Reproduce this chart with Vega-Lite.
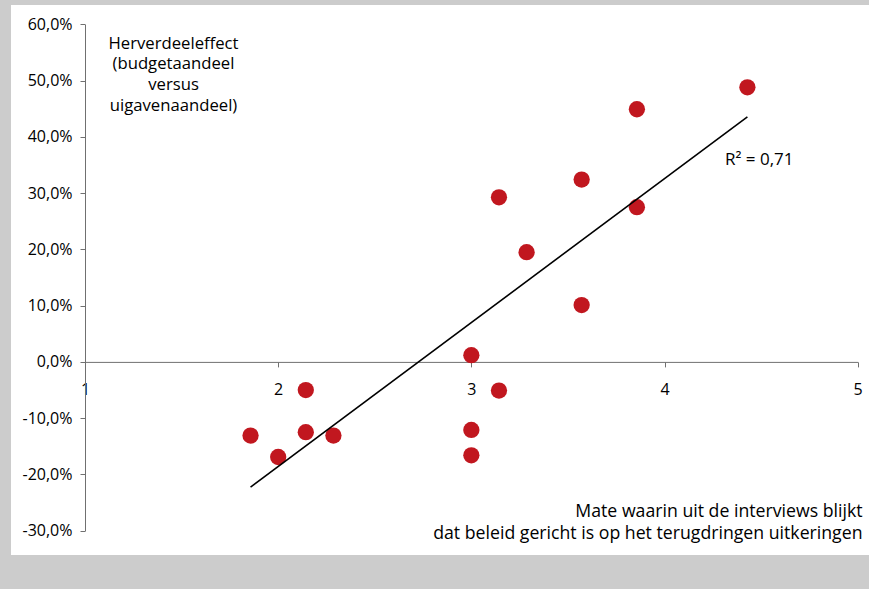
{
  "$schema": "https://vega.github.io/schema/vega-lite/v6.json",
  "width": 858,
  "height": 550,
  "autosize": {"type": "none"},
  "padding": {"left": 11, "top": 5, "right": 0, "bottom": 34},
  "background": "#cccccc",
  "config": {
    "view": {"fill": "white", "stroke": null},
    "font": "Open Sans",
    "locale": {"number": {"decimal": ",", "thousands": ".", "grouping": [3], "currency": ["€", ""], "minus": "-"}},
    "axis": {
      "grid": false,
      "domainColor": "#707070",
      "tickColor": "#707070",
      "labelColor": "#000000",
      "titleColor": "#000000",
      "labelFontSize": 16,
      "titleFontSize": 16.7,
      "titleFontWeight": "normal",
      "labelFontWeight": "normal",
      "labelFont": "Open Sans",
      "titleFont": "Open Sans",
      "tickSize": 5
    }
  },
  "data": {
    "values": [
      {"mate": 1.857, "herverdeel": -0.131},
      {"mate": 2.0, "herverdeel": -0.169},
      {"mate": 2.143, "herverdeel": -0.050},
      {"mate": 2.143, "herverdeel": -0.125},
      {"mate": 2.286, "herverdeel": -0.131},
      {"mate": 3.0, "herverdeel": 0.012},
      {"mate": 3.0, "herverdeel": -0.121},
      {"mate": 3.0, "herverdeel": -0.166},
      {"mate": 3.143, "herverdeel": -0.051},
      {"mate": 3.143, "herverdeel": 0.2925},
      {"mate": 3.286, "herverdeel": 0.195},
      {"mate": 3.571, "herverdeel": 0.324},
      {"mate": 3.571, "herverdeel": 0.101},
      {"mate": 3.857, "herverdeel": 0.275},
      {"mate": 3.857, "herverdeel": 0.449},
      {"mate": 4.429, "herverdeel": 0.488}
    ]
  },
  "layer": [
    {
      "mark": {"type": "circle", "size": 265, "opacity": 1, "color": "#c1171f"},
      "encoding": {
        "x": {
          "field": "mate",
          "type": "quantitative",
          "scale": {"domain": [1, 5], "range": [74, 846.7], "nice": false, "zero": false},
          "axis": {
            "orient": "bottom",
            "offset": -193.1,
            "values": [1, 2, 3, 4, 5],
            "format": "d",
            "labelPadding": 15,
            "labelFlush": false,
            "labelOverlap": false,
            "title": ["Mate waarin uit de interviews blijkt", "dat beleid gericht is op het terugdringen uitkeringen"],
            "titleFontSize": 17.7,
            "titleAlign": "right",
            "titleAnchor": "end",
            "titleBaseline": "top",
            "titleX": 851,
            "titleY": 140.5,
            "titleLineHeight": 22
          }
        },
        "y": {
          "field": "herverdeel",
          "type": "quantitative",
          "scale": {"domain": [-0.3, 0.6], "range": [525.7, 19.3], "nice": false, "zero": false},
          "axis": {
            "orient": "left",
            "offset": -74,
            "values": [-0.3, -0.2, -0.1, 0, 0.1, 0.2, 0.3, 0.4, 0.5, 0.6],
            "format": ".1%",
            "labelPadding": 8,
            "labelFlush": false,
            "labelOverlap": false,
            "title": ["Herverdeeleffect", "(budgetaandeel", "versus", "uigavenaandeel)"],
            "titleAngle": 0,
            "titleAlign": "center",
            "titleBaseline": "top",
            "titleX": 88,
            "titleY": 30,
            "titleLineHeight": 20.8
          }
        }
      }
    },
    {
      "transform": [{"regression": "herverdeel", "on": "mate"}],
      "mark": {"type": "line", "color": "#000000", "strokeWidth": 1.6},
      "encoding": {
        "x": {"field": "mate", "type": "quantitative"},
        "y": {"field": "herverdeel", "type": "quantitative"}
      }
    },
    {
      "data": {"values": [{"label": "R² = 0,71"}]},
      "mark": {"type": "text", "align": "left", "baseline": "middle", "fontSize": 17, "fontWeight": 400, "font": "Open Sans", "fill": "#000000"},
      "encoding": {
        "text": {"field": "label", "type": "nominal"},
        "x": {"datum": 4.313},
        "y": {"datum": 0.359}
      }
    }
  ]
}
